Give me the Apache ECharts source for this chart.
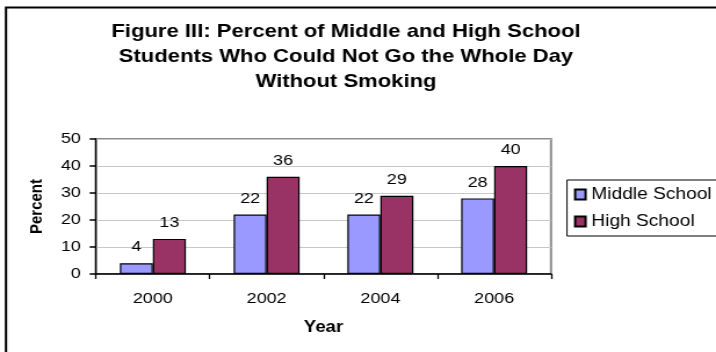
<!DOCTYPE html>
<html>
<head>
<meta charset="utf-8">
<script src="https://cdn.jsdelivr.net/npm/echarts@6/dist/echarts.min.js"></script>
<style>
  html, body { margin: 0; padding: 0; background: #ffffff; overflow: hidden; }
  /* the chart is laid out narrower and widened horizontally, giving the wide Arial look */
  #chart { width: 617px; height: 352px; transform: scaleX(1.1605); transform-origin: 0 0; }
</style>
</head>
<body>
<div id="chart"></div>
<script>
// Survey years and percentages of students who could not go a whole day without smoking
const years = ['2000', '2002', '2004', '2006'];
const middleSchool = [4, 22, 22, 28];
const highSchool = [13, 36, 29, 40];
const seriesNames = ['Middle School', 'High School'];
const titleLines = [
  'Figure III: Percent of Middle and High School',
  'Students Who Could Not Go the Whole Day',
  'Without Smoking'
];

const FONT = '"Liberation Sans", Arial, sans-serif';
const STRETCH = 1.1605;            // horizontal widening applied by CSS
const sx = v => v / STRETCH;       // page x -> layout x

const chart = echarts.init(document.getElementById('chart'), null, { renderer: 'canvas' });

const labelStyle = {
  show: true,
  position: 'top',
  distance: 8,
  color: '#000',
  fontSize: 15.5,
  fontFamily: FONT
};

chart.setOption({
  backgroundColor: '#ffffff',
  animation: false,
  title: {
    text: titleLines.join('\n'),
    left: sx(346),
    top: 19,
    padding: 0,
    textAlign: 'center',
    textStyle: {
      fontFamily: FONT,
      fontWeight: 'bold',
      fontSize: 19,
      lineHeight: 25,
      color: '#000'
    }
  },
  graphic: [
    // frame around the chart area (left and top edges)
    {
      type: 'polyline',
      shape: { points: [[sx(6), 360], [sx(6), 7.5], [640, 7.5]] },
      style: { stroke: '#000', lineWidth: 2, fill: null }
    }
  ],
  legend: {
    orient: 'vertical',
    left: sx(567),
    top: 180,
    data: seriesNames,
    icon: 'rect',
    itemWidth: 9,
    itemHeight: 10,
    itemGap: 10,
    padding: [6, 30, 6, 6],
    borderColor: '#000',
    borderWidth: 1,
    textStyle: { fontFamily: FONT, fontSize: 16.5, color: '#000', padding: [0, 0, 0, 0] }
  },
  grid: {
    left: sx(96),
    right: 617 - sx(551),
    top: 139,
    bottom: 78,
    show: true,
    borderColor: '#8c8c8c',
    borderWidth: 2,
    backgroundColor: 'transparent'
  },
  xAxis: {
    type: 'category',
    data: years,
    name: 'Year',
    nameLocation: 'middle',
    nameGap: 46,
    nameTextStyle: { fontFamily: FONT, fontWeight: 'bold', fontSize: 16, color: '#000' },
    axisLine: { lineStyle: { color: '#000', width: 1.5 } },
    axisTick: { show: true, length: 5, alignWithLabel: false, lineStyle: { color: '#000', width: 1.3 } },
    axisLabel: { fontFamily: FONT, fontSize: 15.5, color: '#000', margin: 17 },
    splitLine: { show: false }
  },
  yAxis: {
    type: 'value',
    min: 0,
    max: 50,
    interval: 10,
    name: 'Percent',
    nameLocation: 'middle',
    nameRotate: 90,
    nameGap: 43,
    nameTextStyle: { fontFamily: FONT, fontWeight: 'bold', fontSize: 15, color: '#000' },
    axisLine: { show: true, lineStyle: { color: '#000', width: 1.3 } },
    axisTick: { show: true, length: 5.5, lineStyle: { color: '#000', width: 1.5 } },
    axisLabel: { fontFamily: FONT, fontSize: 15.5, color: '#000', margin: 13 },
    splitLine: { show: true, lineStyle: { color: '#c8c8c8', width: 1 } }
  },
  series: [
    {
      name: seriesNames[0],
      type: 'bar',
      data: middleSchool,
      barGap: '0%',
      barCategoryGap: '42%',
      itemStyle: { color: '#9999ff', borderColor: '#000', borderWidth: 1.2 },
      label: labelStyle
    },
    {
      name: seriesNames[1],
      type: 'bar',
      data: highSchool,
      itemStyle: { color: '#993366', borderColor: '#000', borderWidth: 1.2 },
      label: labelStyle
    }
  ]
});
</script>
</body>
</html>
